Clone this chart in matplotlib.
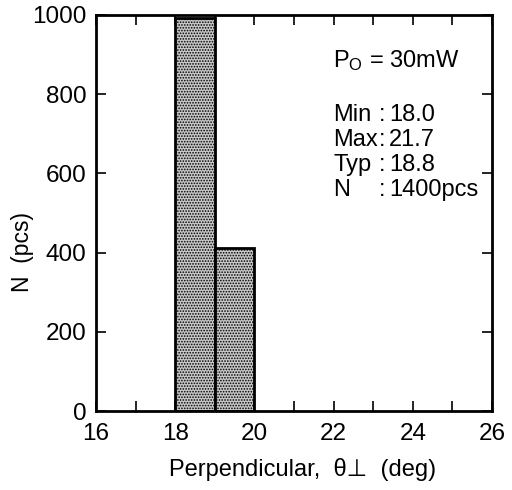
import matplotlib
matplotlib.use('Agg')
import matplotlib.pyplot as plt

# histogram data
bin_left = [18, 19]
counts = [992, 412]
bin_width = 1

stat_names = ['Min', 'Max', 'Typ', 'N']
stat_values = ['18.0', '21.7', '18.8', '1400pcs']

plt.rcParams['font.family'] = ['Liberation Sans', 'DejaVu Sans']
plt.rcParams['mathtext.fontset'] = 'custom'
plt.rcParams['mathtext.rm'] = 'Liberation Sans'
plt.rcParams['hatch.color'] = '#585858'
plt.rcParams['hatch.linewidth'] = 0.8

W, H = 512, 490
fig = plt.figure(figsize=(W / 100, H / 100), dpi=100)
ax = fig.add_axes([96/W, 1 - 411/H, (492-96)/W, (411-15)/H])

ax.bar(bin_left, counts, width=bin_width, align='edge',
       facecolor='#c8c8c8', edgecolor='black', linewidth=2, hatch='......')

ax.set_xlim(16, 26)
ax.set_ylim(0, 1000)
ax.set_xticks(range(16, 27, 2))
ax.set_xticks(range(16, 27), minor=True)
ax.set_yticks(range(0, 1001, 200))
ax.tick_params(axis='both', which='both', direction='in', top=True, right=True,
               labelsize=17.5, width=1.2, length=7)
ax.tick_params(axis='x', pad=9)
ax.tick_params(axis='y', pad=7)
for s in ax.spines.values():
    s.set_linewidth(2)

# axis titles
fig.text(303/W, 1 - 469/H, 'Perpendicular,  θ⊥  (deg)', fontsize=17,
         ha='center', va='center')
fig.text(22/W, 1 - 252/H, 'N  (pcs)', fontsize=16.5, rotation=90,
         ha='center', va='center')

# annotation block
fig.text(333/W, 1 - 61/H, r'$\mathregular{P_O}$ = 30mW', fontsize=17, va='center')
for i, (n, v) in enumerate(zip(stat_names, stat_values)):
    y = 115 + i * 25
    fig.text(333/W, 1 - y/H, n, fontsize=17, va='center')
    fig.text(379/W, 1 - y/H, ':', fontsize=17, va='center')
    fig.text(389/W, 1 - y/H, v, fontsize=17, va='center')

fig.savefig('out.png', dpi=100)
